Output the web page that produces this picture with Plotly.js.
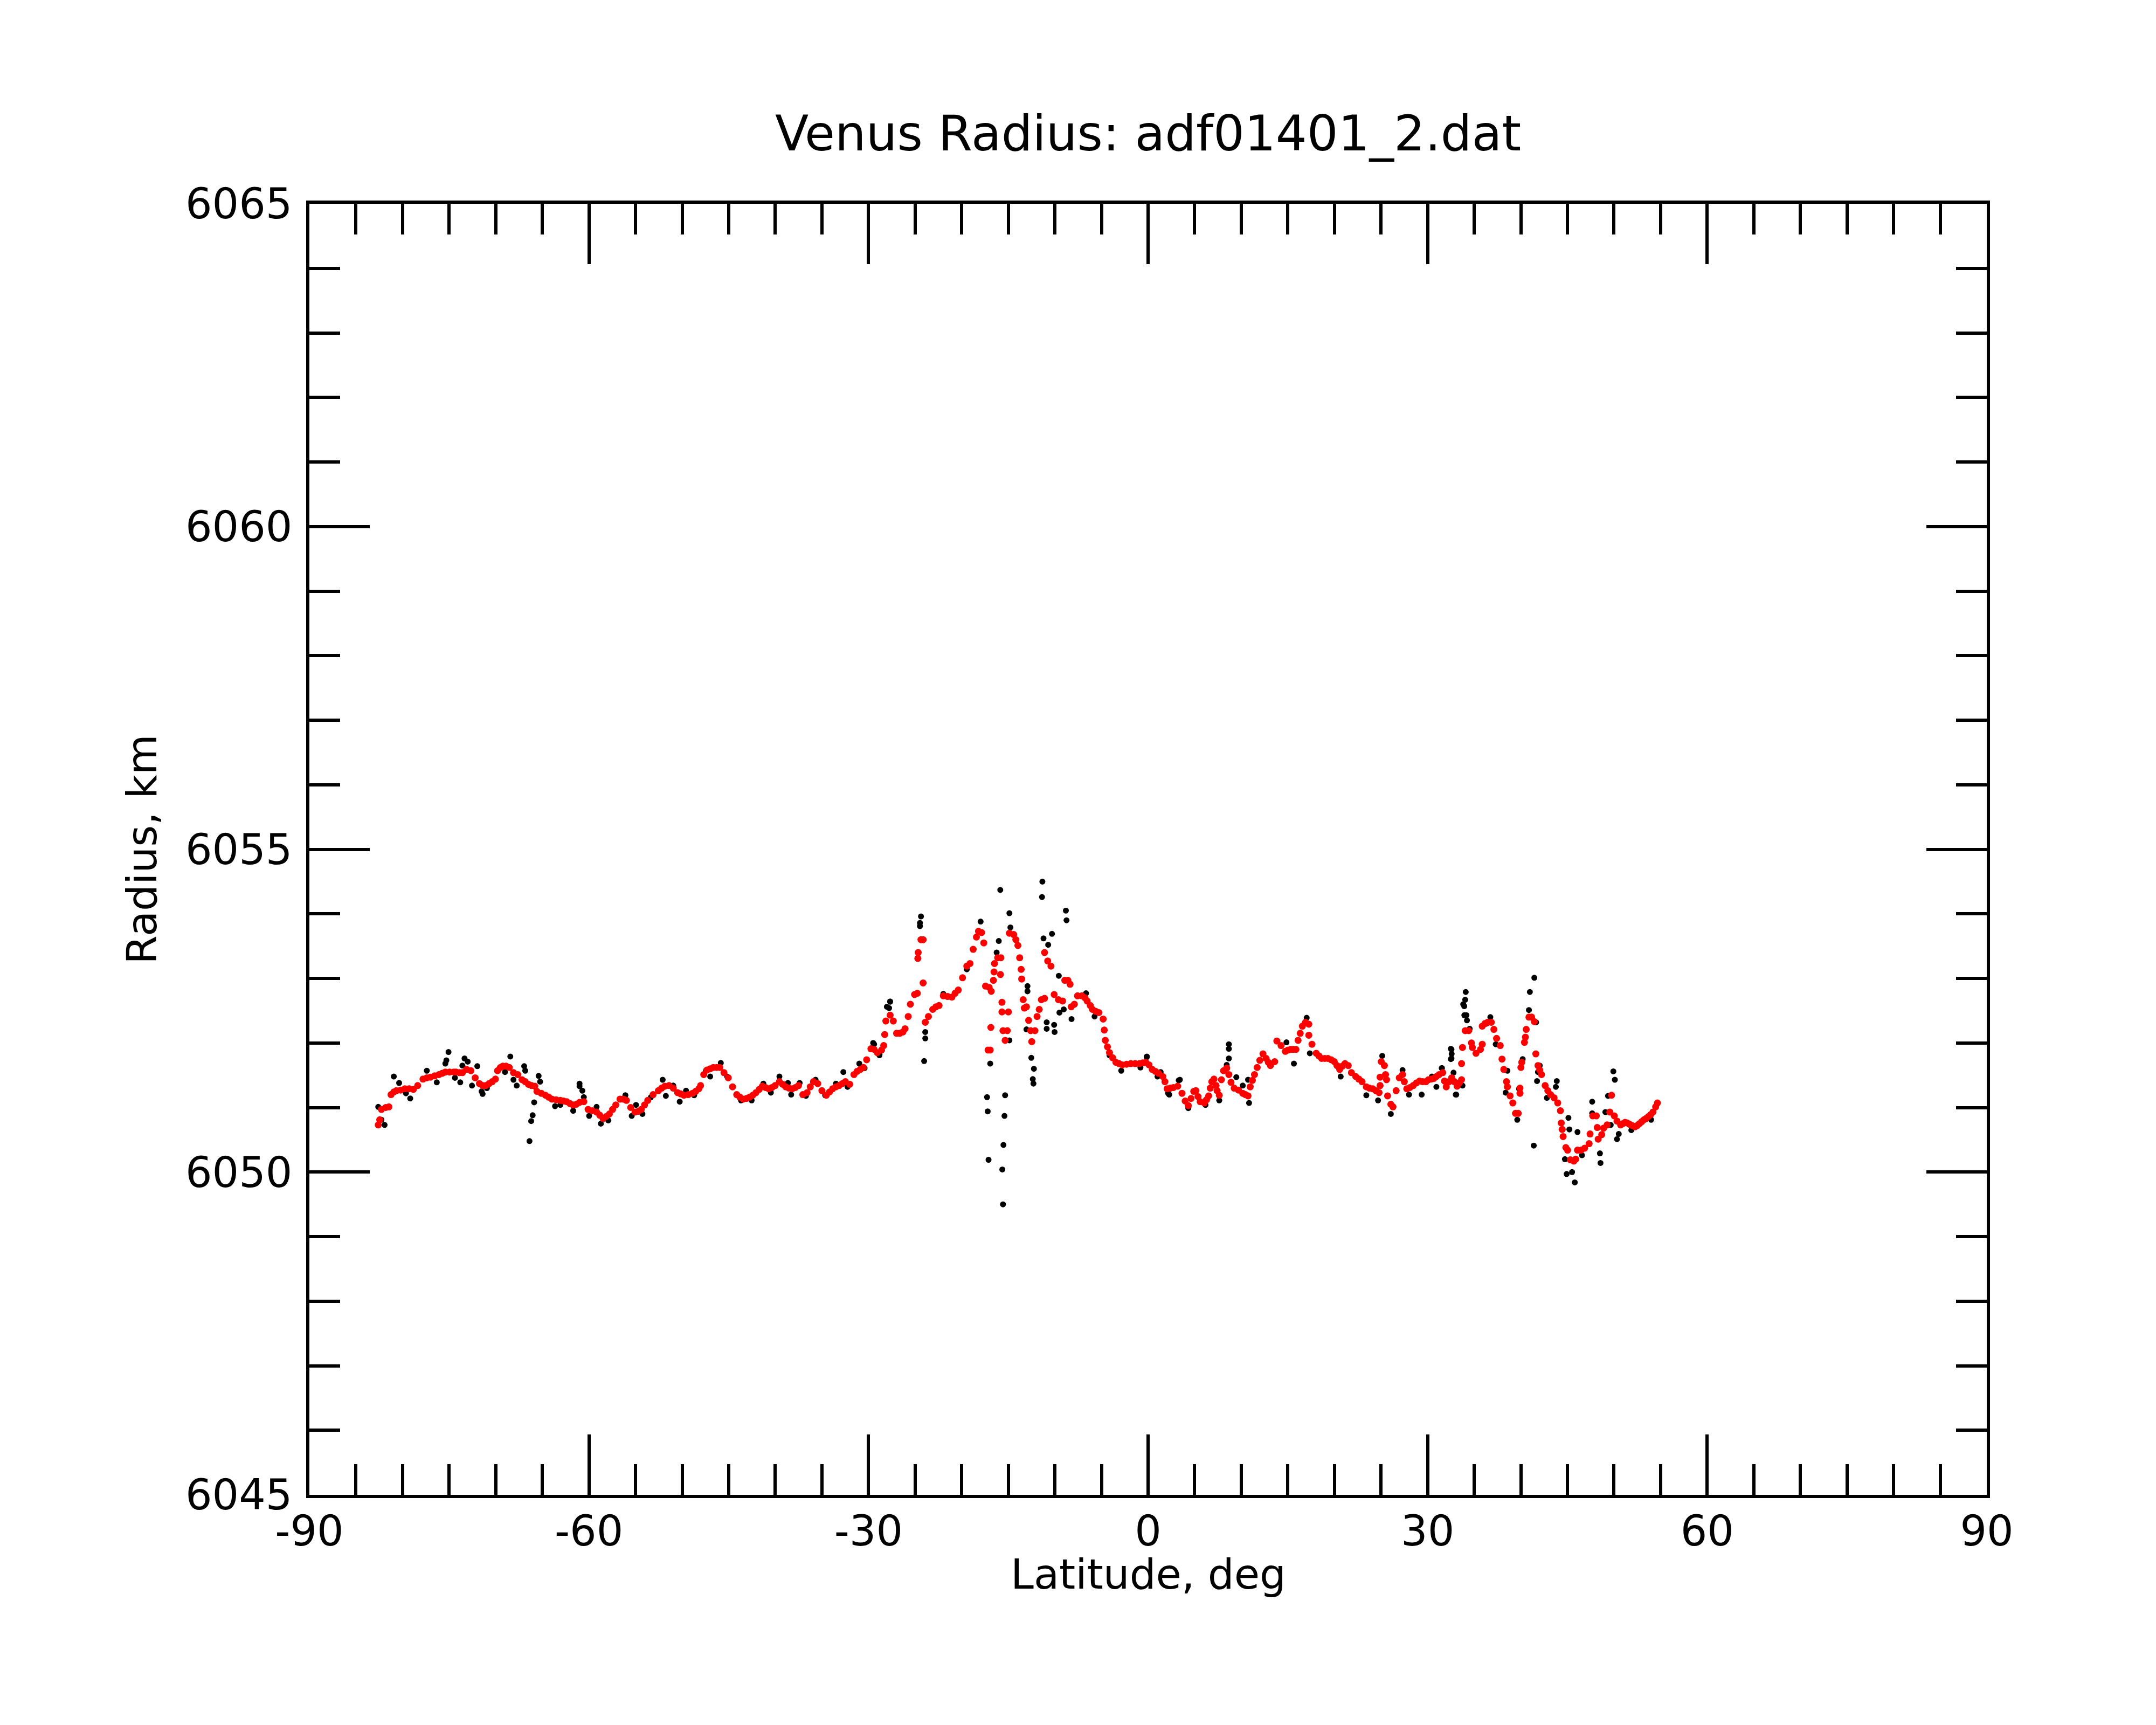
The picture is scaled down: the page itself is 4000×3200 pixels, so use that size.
<!DOCTYPE html>
<html>
<head>
<meta charset="utf-8">
<script src="https://cdn.plot.ly/plotly-3.0.1.min.js"></script>
<style>
  body { margin: 0; background: #fff; }
  #plot { width: 4000px; height: 3200px; }
</style>
</head>
<body>
<div id="plot"></div>
<script>
// smoothed radius (red)
var redLat = [-82.61,-82.45,-82.27,-81.81,-81.47,-81.24,-80.95,-80.67,-80.21,-79.75,-79.30,-78.84,-78.38,-77.81,-77.40,-77.01,-76.56,-76.10,-75.75,-75.41,-74.96,-74.50,-74.27,-73.90,-73.58,-73.13,-72.67,-72.21,-71.75,-71.41,-71.07,-70.72,-70.38,-70.04,-69.81,-69.50,-69.24,-68.90,-68.55,-68.10,-67.64,-67.18,-66.84,-66.50,-66.15,-65.81,-65.58,-65.12,-64.67,-64.32,-63.98,-63.52,-63.07,-62.72,-62.38,-62.03,-61.69,-61.35,-61.01,-60.55,-60.09,-59.64,-59.18,-58.84,-58.49,-58.15,-57.81,-57.46,-57.12,-56.67,-56.33,-55.98,-55.52,-55.06,-54.72,-54.38,-54.03,-53.69,-53.12,-52.55,-52.20,-51.86,-51.41,-50.95,-50.49,-50.15,-49.81,-49.35,-48.89,-48.55,-48.21,
  -48.02,-47.68,-47.34,-47.00,-46.65,-46.30,-45.96,-45.51,-45.05,-44.59,-44.14,-43.80,-43.45,-43.10,-42.77,-42.42,-42.08,-41.73,-41.39,-41.05,-40.71,-40.36,-40.02,-39.56,-39.22,-38.88,-38.53,-38.19,-37.85,-37.51,-37.05,-36.59,-36.25,-35.91,-35.45,-35.00,-34.53,-34.19,-33.85,-33.50,-33.16,-32.82,-32.48,-32.02,-31.56,-31.22,-30.88,-30.54,-30.20,
  -29.74,-29.40,-29.06,-28.60,-28.37,-28.26,-28.14,-27.68,-27.34,-26.99,-26.65,-26.31,-26.08,-25.74,-25.51,-25.06,-24.76,-24.14,-24.71,-24.67,-24.37,-24.14,-23.91,-23.57,-23.11,-22.77,-22.43,-21.97,-21.51,-21.05,-20.71,-20.37,-19.91,-19.45,-19.11,-18.77,-18.42,-18.20,-17.86,-17.63,-17.44,-17.05,-16.83,-17.17,-16.94,-16.87,-16.60,-16.53,-16.48,-16.14,-15.80,-15.84,-15.68,-15.68,-14.99,-15.57,-15.11,-15.34,-14.88,-14.42,-14.19,-13.97,-13.78,-13.62,-13.56,-13.40,-13.28,-13.05,-12.82,-12.60,-12.48,-12.14,-11.91,-11.68,-11.45,-11.11,-11.11,-10.77,-10.42,-10.08,-9.62,-9.17,-8.94,-8.60,-8.37,-8.25,-7.91,-7.57,-7.11,-6.77,-6.54,-6.20,-5.97,-5.63,-5.28,-4.82,-4.70,-4.59,-4.36,-4.14,-3.80,-3.45,-3.11,-2.77,-2.31,-1.85,-1.39,-0.93,-0.59,-0.25,0.10,0.44,0.78,1.12,1.58,1.81,2.04,2.38,2.72,3.18,3.64,3.98,4.32,4.61,4.90,
  5.13,5.36,5.59,6.04,6.27,6.50,6.67,6.84,7.07,7.30,7.41,7.64,7.87,8.10,8.44,8.67,8.90,9.24,9.70,10.16,10.45,10.73,10.96,11.19,11.42,11.71,11.99,12.33,12.67,12.90,13.13,13.59,13.82,14.27,14.73,15.01,15.30,15.58,15.87,16.10,16.33,16.56,16.90,17.25,17.25,17.59,18.05,18.33,18.62,18.96,19.30,19.65,19.99,20.27,20.56,20.84,21.13,21.48,21.82,22.28,22.62,22.96,23.42,23.76,24.10,24.45,24.79,24.90,24.90,25.02,25.36,25.48,25.59,25.70,26.05,26.28,26.62,26.96,27.31,27.50,27.76,28.10,28.45,28.79,29.13,29.47,29.82,
  30.08,30.37,30.66,30.95,31.23,31.62,31.81,32.00,32.29,32.58,32.87,33.16,33.40,33.64,33.64,33.74,34.03,34.41,34.70,34.80,35.19,35.67,35.86,35.86,36.15,36.44,36.83,37.11,37.40,37.79,37.98,38.17,38.46,38.56,38.85,39.14,39.43,39.72,39.91,39.91,40.01,40.10,40.39,40.49,40.58,40.87,41.16,41.45,41.61,41.84,42.03,42.22,42.61,42.90,43.19,43.57,43.96,44.25,44.34,44.44,44.54,44.83,45.02,45.31,45.69,45.89,46.08,46.46,46.85,47.33,47.43,47.72,48.10,48.20,48.30,48.68,48.88,49.26,49.55,49.74,50.03,50.32,50.71,50.95,51.19,51.43,51.67,51.96,52.25,52.49,52.73,52.97,53.21,53.45,53.69,53.94,54.18,54.47,54.66];
var redRad = [6050.73,6050.81,6050.97,6051.00,6051.01,6051.20,6051.24,6051.26,6051.27,6051.29,6051.29,6051.28,6051.34,6051.44,6051.46,6051.47,6051.49,6051.51,6051.53,6051.55,6051.55,6051.55,6051.55,6051.54,6051.54,6051.59,6051.57,6051.46,6051.37,6051.34,6051.34,6051.37,6051.40,6051.44,6051.57,6051.62,6051.64,6051.64,6051.62,6051.54,6051.51,6051.43,6051.40,6051.36,6051.34,6051.33,6051.25,6051.22,6051.19,6051.16,6051.13,6051.12,6051.11,6051.10,6051.09,6051.06,6051.04,6051.05,6051.08,6051.09,6050.97,6050.95,6050.93,6050.88,6050.83,6050.86,6050.90,6050.97,6051.04,6051.13,6051.13,6051.11,6051.00,6050.93,6050.94,6050.97,6051.04,6051.11,6051.20,6051.26,6051.30,6051.33,6051.34,6051.30,6051.23,6051.21,6051.19,6051.20,6051.22,6051.25,6051.29,
  6051.34,6051.51,6051.58,6051.60,6051.62,6051.62,6051.62,6051.54,6051.46,6051.32,6051.20,6051.16,6051.13,6051.14,6051.16,6051.19,6051.23,6051.28,6051.33,6051.31,6051.29,6051.31,6051.34,6051.40,6051.36,6051.32,6051.30,6051.29,6051.31,6051.34,6051.20,6051.23,6051.32,6051.40,6051.37,6051.26,6051.19,6051.24,6051.29,6051.32,6051.34,6051.37,6051.40,6051.36,6051.51,6051.56,6051.59,6051.62,6051.74,
  6051.91,6051.90,6051.85,6051.89,6051.96,6052.13,6052.34,6052.43,6052.34,6052.15,6052.15,6052.17,6052.22,6052.41,6052.60,6052.75,6052.77,6052.93,6053.31,6053.40,6053.60,6053.60,6052.32,6052.41,6052.52,6052.56,6052.58,6052.73,6052.72,6052.71,6052.77,6052.82,6053.01,6053.19,6053.23,6053.45,6053.64,6053.73,6053.71,6053.55,6052.88,6052.86,6052.80,6051.89,6051.89,6052.24,6052.97,6053.10,6053.23,6053.32,6053.32,6053.06,6052.63,6052.48,6052.48,6052.19,6052.19,6052.04,6053.70,6053.68,6053.60,6053.51,6053.32,6053.14,6052.99,6052.67,6052.54,6052.56,6052.35,6052.19,6052.02,6052.19,6052.41,6052.52,6052.67,6052.69,6053.40,6053.27,6053.19,6052.75,6052.67,6052.65,6052.97,6052.97,6052.91,6052.56,6052.60,6052.73,6052.73,6052.70,6052.65,6052.58,6052.52,6052.49,6052.47,6052.37,6052.20,6052.04,6051.94,6051.85,6051.77,6051.70,6051.68,6051.66,6051.67,6051.68,6051.68,6051.68,6051.69,6051.70,6051.66,6051.59,6051.56,6051.53,6051.48,6051.40,6051.29,6051.30,6051.31,6051.33,6051.22,6051.10,6051.03,6051.14,6051.25,
  6051.26,6051.17,6051.09,6051.07,6051.12,6051.18,6051.30,6051.40,6051.44,6051.34,6051.26,6051.19,6051.43,6051.57,6051.61,6051.51,6051.39,6051.30,6051.27,6051.22,6051.20,6051.18,6051.32,6051.42,6051.51,6051.62,6051.73,6051.83,6051.76,6051.70,6051.65,6051.71,6052.03,6051.96,6051.87,6051.89,6051.90,6051.90,6051.90,6052.04,6052.15,6052.26,6052.32,6052.29,6052.12,6051.98,6051.84,6051.80,6051.76,6051.76,6051.76,6051.74,6051.71,6051.65,6051.59,6051.64,6051.68,6051.65,6051.54,6051.48,6051.44,6051.40,6051.32,6051.30,6051.29,6051.26,6051.23,6051.34,6051.47,6051.71,6051.65,6051.51,6051.43,6051.18,6051.05,6051.01,6051.26,6051.46,6051.51,6051.40,6051.29,6051.31,6051.34,6051.38,6051.41,6051.40,6051.40,
  6051.43,6051.44,6051.45,6051.48,6051.51,6051.54,6051.41,6051.32,6051.40,6051.46,6051.40,6051.33,6051.38,6051.43,6051.68,6051.93,6052.19,6052.19,6052.00,6051.93,6051.84,6051.90,6051.98,6052.26,6052.30,6052.32,6052.32,6052.21,6052.07,6051.96,6051.75,6051.59,6051.40,6051.32,6051.18,6051.07,6050.91,6050.91,6051.22,6051.30,6051.62,6051.70,6052.01,6052.09,6052.21,6052.40,6052.40,6052.33,6051.83,6051.65,6051.58,6051.51,6051.34,6051.26,6051.20,6051.15,6051.07,6050.95,6050.76,6050.66,6050.55,6050.38,6050.34,6050.19,6050.17,6050.20,6050.34,6050.34,6050.37,6050.44,6050.59,6050.87,6050.87,6050.69,6050.51,6050.58,6050.68,6050.73,6050.93,6051.19,6050.87,6050.79,6050.73,6050.75,6050.77,6050.76,6050.74,6050.72,6050.70,6050.72,6050.75,6050.78,6050.81,6050.83,6050.86,6050.89,6050.93,6051.01,6051.07];

// raw radius (black)
var blackLat = [-82.61,-82.27,-81.93,-80.94,-80.37,-79.64,-79.18,-77.40,-76.33,-75.41,-75.30,-75.07,-74.38,-73.81,-73.58,-73.35,-73.01,-72.55,-71.98,-71.52,-71.41,-70.95,-69.01,-68.44,-68.10,-67.75,-66.95,-66.84,-66.38,-66.20,-66.04,-65.88,-65.40,-65.24,-63.64,-63.07,-61.69,-61.01,-61.01,-60.71,-60.55,-59.98,-59.18,-58.72,-57.92,-56.09,-55.41,-54.95,-54.26,-53.35,-52.09,-51.75,-50.95,-50.26,-49.58,
  -48.71,-47.45,-46.99,-45.85,-45.17,-43.68,-42.54,-41.28,-40.48,-39.56,-38.65,-38.30,-37.39,-36.71,-35.68,-34.65,-33.50,-32.70,-32.25,-30.99,-30.42,-29.50,-29.40,-28.82,-28.83,-28.03,-27.79,-27.68,-27.68,
  -24.48,-24.48,-24.37,-24.03,-23.91,-23.91,-21.97,-19.45,-17.97,-17.28,-17.21,-17.12,-16.94,-16.25,-16.02,-15.86,-15.64,-15.57,-15.52,-15.41,-15.34,-14.88,-14.88,-14.77,-13.05,-12.94,-12.94,-12.53,-12.37,-12.30,-12.25,-11.38,-11.34,-11.22,-10.88,-10.88,-10.72,-10.31,-10.08,-10.03,-9.58,-9.51,-9.05,-8.82,-8.75,-8.21,-6.66,-5.74,-4.14,-2.88,-0.82,-0.14,-0.13,1.01,1.35,2.15,2.27,3.29,3.41,4.32,4.33,
  6.16,7.64,8.44,8.67,8.67,8.67,9.47,10.16,10.73,10.84,14.85,15.65,17.02,17.36,20.67,23.42,24.68,25.13,26.05,27.31,28.00,29.36,30.46,30.94,31.52,31.53,32.49,32.49,32.56,32.56,32.58,32.78,33.02,33.07,33.74,33.82,33.93,33.94,34.03,34.09,34.16,34.22,34.51,
  36.34,36.73,37.31,38.37,38.56,39.62,39.81,40.20,40.87,40.97,41.39,41.45,41.64,41.74,41.84,42.03,42.80,43.76,43.86,44.73,44.92,45.11,45.21,45.50,45.79,46.08,46.56,47.66,47.66,48.49,48.55,49.07,49.36,49.65,49.93,50.09,50.32,50.51,51.86,53.98];
var blackRad = [6051.01,6050.81,6050.73,6051.48,6051.38,6051.22,6051.14,6051.57,6051.39,6051.68,6051.73,6051.86,6051.46,6051.39,6051.65,6051.76,6051.71,6051.34,6051.64,6051.25,6051.21,6051.30,6051.55,6051.79,6051.43,6051.34,6051.64,6051.57,6050.48,6050.79,6050.88,6051.08,6051.49,6051.40,6051.02,6051.04,6050.95,6051.37,6051.33,6051.26,6051.16,6050.87,6051.01,6050.75,6050.80,6051.19,6050.87,6051.04,6050.90,6051.16,6051.43,6051.18,6051.34,6051.09,6051.26,
  6051.19,6051.57,6051.48,6051.69,6051.48,6051.11,6051.11,6051.37,6051.23,6051.48,6051.38,6051.20,6051.38,6051.18,6051.43,6051.19,6051.37,6051.55,6051.32,6051.68,6051.61,6052.00,6051.98,6051.82,6051.81,6052.56,6052.54,6052.64,6052.64,
  6053.86,6053.81,6053.96,6051.72,6052.17,6052.07,6052.76,6053.14,6053.88,6051.16,6050.94,6050.19,6051.68,6053.40,6053.58,6054.37,6050.04,6049.50,6050.42,6050.87,6051.19,6054.01,6052.04,6053.79,6052.21,6052.88,6052.80,6051.77,6051.44,6051.37,6051.60,6054.26,6054.50,6053.62,6052.32,6052.22,6053.52,6053.69,6052.28,6052.17,6053.04,6052.47,6052.52,6054.05,6053.90,6052.37,6052.77,6052.41,6051.81,6051.57,6051.62,6051.78,6051.79,6051.48,6051.55,6051.22,6051.20,6051.42,6051.43,6050.99,6051.00,
  6051.04,6051.11,6051.66,6051.98,6051.91,6051.76,6051.47,6051.34,6051.43,6051.07,6052.01,6051.68,6052.39,6051.84,6051.48,6051.19,6051.11,6051.80,6050.90,6051.58,6051.20,6051.20,6051.48,6051.32,6051.61,6051.61,6051.91,6051.75,6051.90,6051.76,6051.83,6051.54,6051.20,6051.20,6051.34,6052.60,6052.57,6052.43,6052.67,6052.79,6052.43,6052.35,6052.22,
  6052.30,6052.40,6051.98,6051.23,6051.57,6050.81,6051.29,6051.75,6052.51,6052.79,6050.41,6053.01,6052.32,6051.41,6051.55,6051.65,6051.15,6051.32,6051.41,6050.20,6049.97,6050.84,6050.66,6050.00,6049.84,6050.62,6050.26,6051.09,6050.91,6050.29,6050.14,6050.93,6051.18,6050.73,6051.56,6051.43,6050.51,6050.59,6050.65,6050.81];

var xTicks = [-90, -60, -30, 0, 30, 60, 90];
var yTicks = [6045, 6050, 6055, 6060, 6065];

var font = 'DejaVu Sans, sans-serif';

var rawTrace = {
  x: blackLat, y: blackRad,
  mode: 'markers', type: 'scatter',
  marker: {color: '#000000', size: 11},
  hoverinfo: 'none'
};
var smoothTrace = {
  x: redLat, y: redRad,
  mode: 'markers', type: 'scatter',
  marker: {color: '#ff0000', size: 13},
  hoverinfo: 'none'
};

function axis(range, ticks, minorStep, titleText, standoff, labelGap) {
  return {
    range: range,
    tickmode: 'array',
    tickvals: ticks,
    ticktext: ticks.map(String),
    ticks: 'inside',
    ticklen: 112,
    tickwidth: 6,
    tickcolor: '#000',
    ticklabelstandoff: labelGap,
    minor: {ticks: 'inside', dtick: minorStep, ticklen: 57, tickwidth: 6, tickcolor: '#000', showgrid: false},
    showline: true,
    linewidth: 6,
    linecolor: '#000',
    mirror: 'ticks',
    showgrid: false,
    zeroline: false,
    tickfont: {family: font, size: 78, color: '#000'},
    title: {text: titleText, standoff: standoff, font: {family: font, size: 77, color: '#000'}},
    automargin: false
  };
}

var layout = {
  width: 4000,
  height: 3200,
  paper_bgcolor: '#fff',
  plot_bgcolor: '#fff',
  showlegend: false,
  margin: {l: 574, r: 314, t: 378, b: 427},
  title: {
    text: 'Venus Radius: adf01401_2.dat',
    font: {family: font, size: 91, color: '#000'},
    x: 0.5, xref: 'paper',
    y: 1 - 247 / 3200, yref: 'container', yanchor: 'middle'
  },
  xaxis: axis([-90, 90], xTicks, 5, '', 0, -6),
  yaxis: axis([6045, 6065], yTicks, 1, 'Radius, km', 30, 10),
  // x-axis title as an annotation so it can sit closer to the tick labels
  annotations: [{
    text: 'Latitude, deg',
    xref: 'paper', yref: 'paper', x: 0.5, y: 0,
    xanchor: 'center', yanchor: 'middle', yshift: -147,
    showarrow: false,
    font: {family: font, size: 77, color: '#000'}
  }]
};

Plotly.newPlot('plot', [rawTrace, smoothTrace], layout, {displayModeBar: false, staticPlot: true});
</script>
</body>
</html>
